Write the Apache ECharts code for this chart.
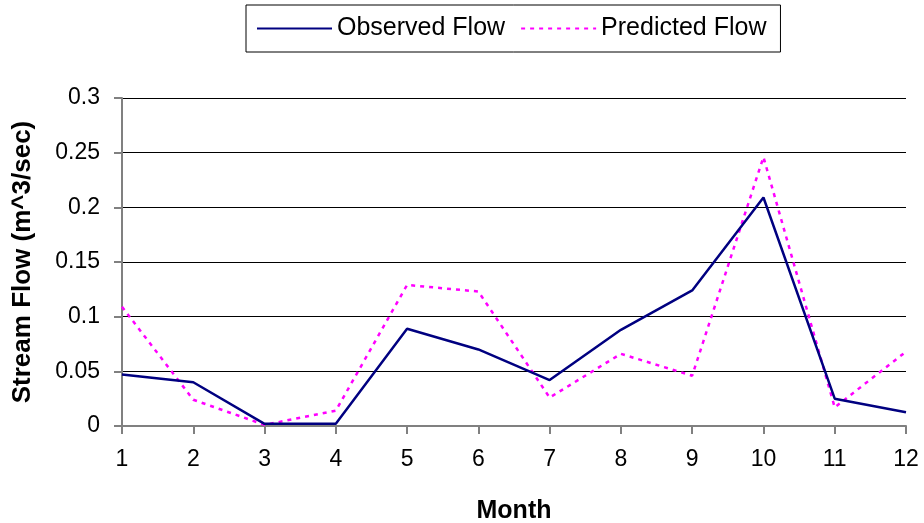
<!DOCTYPE html>
<html><head><meta charset="utf-8">
<script src="https://cdn.jsdelivr.net/npm/echarts@6/dist/echarts.min.js"></script>
<style>html,body{margin:0;padding:0;background:#fff}#c{width:924px;height:523px}</style>
</head><body><div id="c"></div>
<script>
const months = ['1','2','3','4','5','6','7','8','9','10','11','12'];
const observed = [0.047,0.040,0.002,0.002,0.089,0.070,0.042,0.088,0.124,0.209,0.025,0.0125];
const predicted = [0.109,0.024,0.001,0.014,0.129,0.123,0.026,0.066,0.046,0.246,0.017,0.068];
const seriesNames = ['Observed Flow','Predicted Flow'];
const chart = echarts.init(document.getElementById('c'));
const font = 'Liberation Sans, Arial, sans-serif';
chart.setOption({
  animation:false,
  textStyle:{fontFamily:font},
  legend:{
    left:246, top:5, itemWidth:75, itemHeight:14, itemGap:15,
    padding:[11,14,11,10],
    borderColor:'#000', borderWidth:1,
    itemStyle:{opacity:0},
    textStyle:{fontSize:25, color:'#000', fontFamily:font, lineHeight:25},
    data:seriesNames
  },
  grid:{left:122, right:18, top:98, bottom:97, containLabel:false, outerBoundsMode:'none'},
  xAxis:{
    type:'category', data:months, boundaryGap:false,
    name:'Month', nameLocation:'middle', nameGap:73,
    nameTextStyle:{fontSize:25, fontWeight:'bold', color:'#000'},
    axisLine:{lineStyle:{color:'#808080', width:2}},
    axisTick:{show:true, length:8, lineStyle:{color:'#808080', width:2}, alignWithLabel:true},
    axisLabel:{fontSize:23, color:'#000', margin:22, hideOverlap:false},
    splitLine:{show:false}
  },
  yAxis:{
    type:'value', min:0, max:0.3, interval:0.05,
    name:'Stream Flow (m^3/sec)', nameLocation:'middle', nameGap:86,
    nameTextStyle:{fontSize:26, fontWeight:'bold', color:'#000'},
    axisLine:{show:true, lineStyle:{color:'#808080', width:2}},
    axisTick:{show:true, length:8, lineStyle:{color:'#808080', width:2}},
    axisLabel:{fontSize:23, color:'#000', margin:22, formatter:v=>String(+v.toFixed(2))},
    splitLine:{lineStyle:{color:'#000', width:1}}
  },
  series:[
    {name:seriesNames[0], type:'line', data:observed, symbol:'none',
     lineStyle:{color:'#000080', width:2.5}, itemStyle:{color:'#000080'}, z:3},
    {name:seriesNames[1], type:'line', data:predicted, symbol:'none',
     lineStyle:{color:'#FF00FF', width:2.5, type:[4,5]}, itemStyle:{color:'#FF00FF'}, z:2}
  ]
});
</script></body></html>
